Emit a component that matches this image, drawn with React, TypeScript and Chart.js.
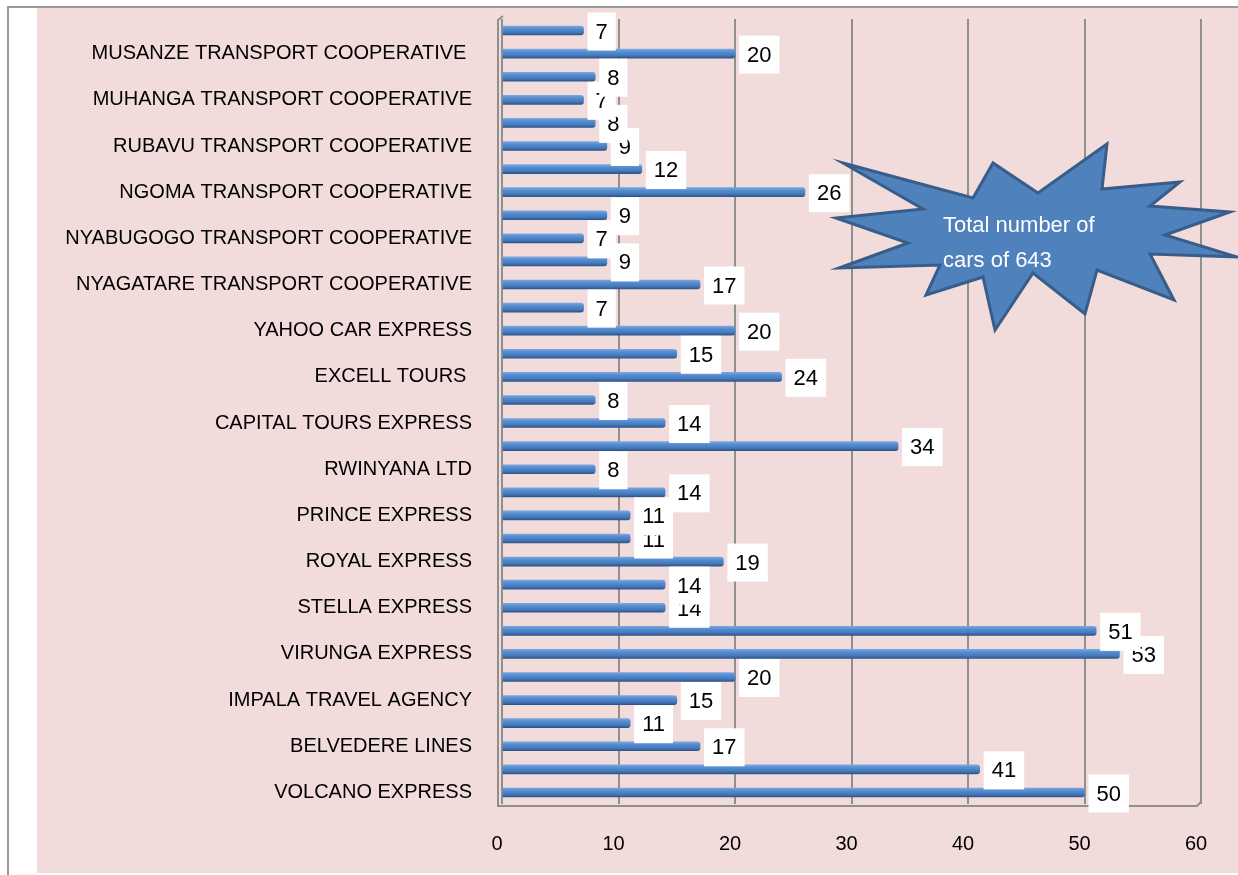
import React, { useEffect, useRef } from "react";
import { Chart, registerables } from "chart.js";

Chart.register(...registerables);

// Categories listed top to bottom (only every other one carries a visible label in the source)
const categoryLabels: string[] = [
  "", "MUSANZE TRANSPORT COOPERATIVE ",
  "", "MUHANGA TRANSPORT COOPERATIVE",
  "", "RUBAVU TRANSPORT COOPERATIVE",
  "", "NGOMA TRANSPORT COOPERATIVE",
  "", "NYABUGOGO TRANSPORT COOPERATIVE",
  "", "NYAGATARE TRANSPORT COOPERATIVE",
  "", "YAHOO CAR EXPRESS",
  "", "EXCELL TOURS ",
  "", "CAPITAL TOURS EXPRESS",
  "", "RWINYANA LTD",
  "", "PRINCE EXPRESS",
  "", "ROYAL EXPRESS",
  "", "STELLA EXPRESS",
  "", "VIRUNGA EXPRESS",
  "", "IMPALA TRAVEL AGENCY",
  "", "BELVEDERE LINES",
  "", "VOLCANO EXPRESS",
];

const carCounts: number[] = [
  7, 20, 8, 7, 8, 9, 12, 26, 9, 7, 9, 17, 7, 20, 15, 24, 8,
  14, 34, 8, 14, 11, 11, 19, 14, 14, 51, 53, 20, 15, 11, 17, 41, 50,
];

const xMin = 0;
const xMax = 60;
const xStep = 10;

const calloutLines: string[] = ["Total number of", "cars of 643"];

const FONT = "'Liberation Sans', Arial, sans-serif";

const backgroundPlugin = {
  id: "pageBackground",
  beforeDraw(chart: any) {
    const { ctx, width, height } = chart;
    ctx.save();
    ctx.fillStyle = "#ffffff";
    ctx.fillRect(0, 0, width, height);
    ctx.fillStyle = "#F2DCDB";
    ctx.fillRect(37, 8, width - 37, height - 10);
    ctx.strokeStyle = "#9a9a9a";
    ctx.lineWidth = 2;
    ctx.beginPath();
    ctx.moveTo(8, height);
    ctx.lineTo(8, 7);
    ctx.lineTo(width, 7);
    ctx.stroke();
    ctx.restore();
  },
  beforeDatasetsDraw(chart: any) {
    const { ctx, chartArea } = chart;
    ctx.save();
    ctx.strokeStyle = "#8f8f8f";
    ctx.lineWidth = 2;
    ctx.beginPath();
    ctx.moveTo(chartArea.left + 1, chartArea.top - 3);
    ctx.lineTo(chartArea.left - 4, chartArea.top + 1);
    ctx.lineTo(chartArea.left - 4, chartArea.bottom + 2);
    ctx.lineTo(chartArea.right - 4, chartArea.bottom + 2);
    ctx.lineTo(chartArea.right, chartArea.bottom - 2);
    ctx.stroke();
    ctx.restore();
  },
};

const dataLabelPlugin = {
  id: "boxedLabels",
  afterDatasetsDraw(chart: any) {
    const { ctx } = chart;
    const meta = chart.getDatasetMeta(0);
    ctx.save();
    ctx.font = `22px ${FONT}`;
    ctx.textAlign = "left";
    ctx.textBaseline = "middle";
    for (let i = meta.data.length - 1; i >= 0; i--) {
      const bar = meta.data[i];
      const txt = String(carCounts[i]);
      const tw = ctx.measureText(txt).width;
      const bw = tw + 16;
      const bh = 38;
      const bx = bar.x + 4;
      const cy = bar.y + 1;
      ctx.fillStyle = "#ffffff";
      ctx.fillRect(bx, cy - bh / 2, bw, bh);
      ctx.fillStyle = "#000000";
      ctx.fillText(txt, bx + 8, cy + 1);
    }
    ctx.restore();
  },
};

// Decorative "explosion" callout shape (pixel outline of the annotation)
const starOutline: [number, number][] = [
  [843, 163], [973, 198], [993, 163], [1038, 193], [1107, 144], [1102, 189],
  [1180, 182], [1150, 206], [1230, 212], [1165, 235], [1237, 257], [1150, 254],
  [1174, 300], [1097, 270], [1085, 314], [1033, 273], [995, 330], [983, 277],
  [926, 295], [940, 265], [839, 268], [908, 243], [836, 218], [923, 209],
];

const calloutPlugin = {
  id: "callout",
  afterDraw(chart: any) {
    const { ctx } = chart;
    ctx.save();
    ctx.beginPath();
    starOutline.forEach(([x, y], i) => (i === 0 ? ctx.moveTo(x, y) : ctx.lineTo(x, y)));
    ctx.closePath();
    ctx.fillStyle = "#4F81BD";
    ctx.fill();
    ctx.lineJoin = "miter";
    ctx.strokeStyle = "#385D8A";
    ctx.lineWidth = 3;
    ctx.stroke();
    ctx.fillStyle = "#ffffff";
    ctx.font = `22px ${FONT}`;
    ctx.textAlign = "left";
    ctx.textBaseline = "alphabetic";
    calloutLines.forEach((line, i) => ctx.fillText(line, 943, 232 + i * 35));
    ctx.restore();
  },
};

export default function App() {
  const canvasRef = useRef<HTMLCanvasElement | null>(null);

  useEffect(() => {
    const canvas = canvasRef.current;
    if (!canvas) return;
    const chart = new Chart(canvas, {
      type: "bar",
      data: {
        labels: categoryLabels,
        datasets: [
          {
            data: carCounts,
            barThickness: 9,
            borderRadius: 3,
            borderSkipped: "start",
            backgroundColor: (c: any) => {
              const ch = c.chart;
              const ys = ch.scales && ch.scales.y;
              if (!ys || c.type !== "data") return "#4F81BD";
              const yc = ys.getPixelForValue(c.dataIndex);
              if (!Number.isFinite(yc)) return "#4F81BD";
              const g = ch.ctx.createLinearGradient(0, yc - 4.5, 0, yc + 4.5);
              g.addColorStop(0, "#7AA6DE");
              g.addColorStop(0.3, "#558DD2");
              g.addColorStop(0.7, "#4679BB");
              g.addColorStop(1, "#2D5588");
              return g;
            },
          },
        ],
      },
      options: {
        indexAxis: "y",
        animation: false,
        responsive: false,
        devicePixelRatio: 1,
        layout: { padding: { top: 19, right: 37, bottom: 0, left: 0 } },
        plugins: {
          legend: { display: false },
          tooltip: { enabled: false },
          title: { display: false },
        },
        scales: {
          x: {
            type: "linear",
            min: xMin,
            max: xMax,
            ticks: {
              stepSize: xStep,
              padding: 28,
              labelOffset: -5,
              color: "#000000",
              font: { family: FONT, size: 20 },
            },
            grid: { color: "#8f8f8f", lineWidth: 2, drawTicks: false },
            border: { display: false },
            afterFit: (s: any) => {
              s.height = 71;
              s.paddingLeft = 0;
              s.paddingRight = 0;
            },
          },
          y: {
            type: "category",
            grid: { display: false, drawTicks: false },
            border: { display: false },
            ticks: {
              autoSkip: false,
              padding: 30,
              color: "#000000",
              font: { family: FONT, size: 20 },
            },
            afterFit: (s: any) => {
              s.width = 502;
              s.paddingTop = 0;
              s.paddingBottom = 0;
            },
          },
        },
      },
      plugins: [backgroundPlugin, dataLabelPlugin, calloutPlugin],
    } as any);
    return () => chart.destroy();
  }, []);

  return (
    <div style={{ position: "absolute", left: 0, top: 0, width: 1238, height: 875 }}>
      <canvas ref={canvasRef} width={1238} height={875} style={{ display: "block" }} />
    </div>
  );
}
